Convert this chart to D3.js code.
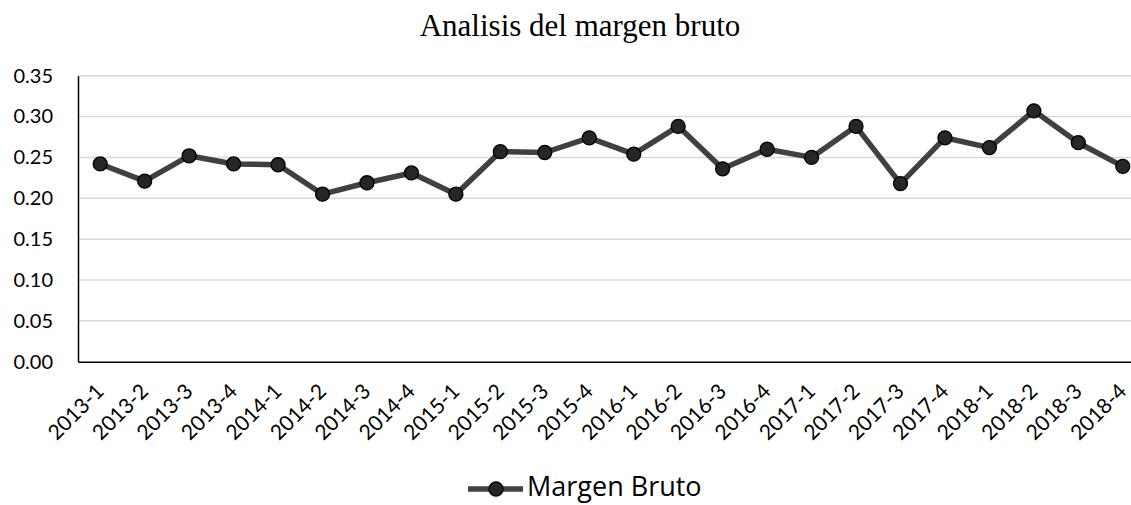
<!DOCTYPE html>
<html>
<head>
<meta charset="utf-8">
<script src="https://cdnjs.cloudflare.com/ajax/libs/d3/7.8.5/d3.min.js"></script>
<style>
  body { margin: 0; background: #fff; }
  svg { display: block; }
</style>
</head>
<body>
<div id="main"></div>
<script>
const ctx = {
    w: 1131,
    h: 505,
};

const periods = ["2013-1", "2013-2", "2013-3", "2013-4", "2014-1", "2014-2", "2014-3", "2014-4",
                 "2015-1", "2015-2", "2015-3", "2015-4", "2016-1", "2016-2", "2016-3", "2016-4",
                 "2017-1", "2017-2", "2017-3", "2017-4", "2018-1", "2018-2", "2018-3", "2018-4"];
const margenBruto = [0.242, 0.221, 0.252, 0.242, 0.241, 0.205, 0.219, 0.231,
                     0.205, 0.257, 0.256, 0.274, 0.254, 0.288, 0.236, 0.260,
                     0.250, 0.288, 0.218, 0.274, 0.262, 0.307, 0.268, 0.239];
const yTicks = [0, 0.05, 0.10, 0.15, 0.20, 0.25, 0.30, 0.35];

function createLineChart(svgEl) {
    var margin = {top: 75.7, left: 78, bottom: 361.7, right: 1145};

    const xScale = d3.scaleBand()
                     .range([margin.left, margin.right])
                     .domain(periods);

    const yScale = d3.scaleLinear()
                     .range([margin.bottom, margin.top])
                     .domain([0, 0.35]);

    // gridlines
    svgEl.append("g")
         .selectAll("line")
         .data(yTicks.slice(1))
         .enter().append("line")
         .attr("x1", margin.left)
         .attr("x2", margin.right)
         .attr("y1", d => yScale(d))
         .attr("y2", d => yScale(d))
         .attr("stroke", "#d9d9d9")
         .attr("stroke-width", 1.5);

    // y axis
    const yAxis = svgEl.append("g")
         .attr("transform", `translate(${margin.left},0)`)
         .call(d3.axisLeft(yScale).tickValues(yTicks).tickFormat(d3.format(".2f")).tickSize(0).tickPadding(25));
    yAxis.select(".domain").attr("stroke", "#000").attr("stroke-width", 1.5);
    yAxis.selectAll("text")
         .style("font-family", "Lato, 'Open Sans', sans-serif")
         .style("font-size", "20px")
         .attr("fill", "#000");

    // x axis
    const xAxis = svgEl.append("g")
         .attr("transform", `translate(0,${margin.bottom})`)
         .call(d3.axisBottom(xScale).tickSize(0));
    xAxis.select(".domain").attr("stroke", "#000").attr("stroke-width", 1.5);
    xAxis.selectAll("text")
         .style("font-family", "Lato, 'Open Sans', sans-serif")
         .style("font-size", "21px")
         .attr("fill", "#000")
         .attr("text-anchor", "end")
         .attr("x", 0)
         .attr("y", 0)
         .attr("dy", 0)
         .attr("transform", "translate(5,31) rotate(-45)");

    const line = d3.line()
                   .x((d, i) => xScale(periods[i]) + xScale.bandwidth() / 2)
                   .y(d => yScale(d));

    svgEl.append("path")
         .datum(margenBruto)
         .attr("d", line)
         .attr("fill", "none")
         .attr("stroke", "#404040")
         .attr("stroke-width", 5.5)
         .attr("stroke-linejoin", "round");

    svgEl.selectAll(".pt")
         .data(margenBruto)
         .enter().append("circle")
         .attr("class", "pt")
         .attr("cx", (d, i) => xScale(periods[i]) + xScale.bandwidth() / 2)
         .attr("cy", d => yScale(d))
         .attr("r", 7)
         .attr("fill", "#262626")
         .attr("stroke", "#000")
         .attr("stroke-width", 1.3);

    // title
    svgEl.append("text")
         .attr("x", 580)
         .attr("y", 36)
         .attr("text-anchor", "middle")
         .style("font-family", "'Liberation Serif', 'Times New Roman', serif")
         .style("font-size", "31px")
         .attr("fill", "#000")
         .text("Analisis del margen bruto");

    // legend
    var legend = svgEl.append("g").attr("transform", "translate(468, 489)");
    legend.append("line")
          .attr("x1", 0).attr("x2", 55)
          .attr("y1", 0).attr("y2", 0)
          .attr("stroke", "#404040")
          .attr("stroke-width", 5.5);
    legend.append("circle")
          .attr("cx", 28).attr("cy", 0).attr("r", 7)
          .attr("fill", "#262626")
          .attr("stroke", "#000")
          .attr("stroke-width", 1.3);
    legend.append("text")
          .attr("x", 59)
          .attr("y", 7)
          .style("font-family", "'Open Sans', Lato, sans-serif")
          .style("font-size", "27px")
          .attr("fill", "#000")
          .text("Margen Bruto");
}

function createViz() {
    const svgEl = d3.select("#main").append("svg")
      .attr("width", ctx.w)
      .attr("height", ctx.h);
    createLineChart(svgEl);
}

createViz();
</script>
</body>
</html>
